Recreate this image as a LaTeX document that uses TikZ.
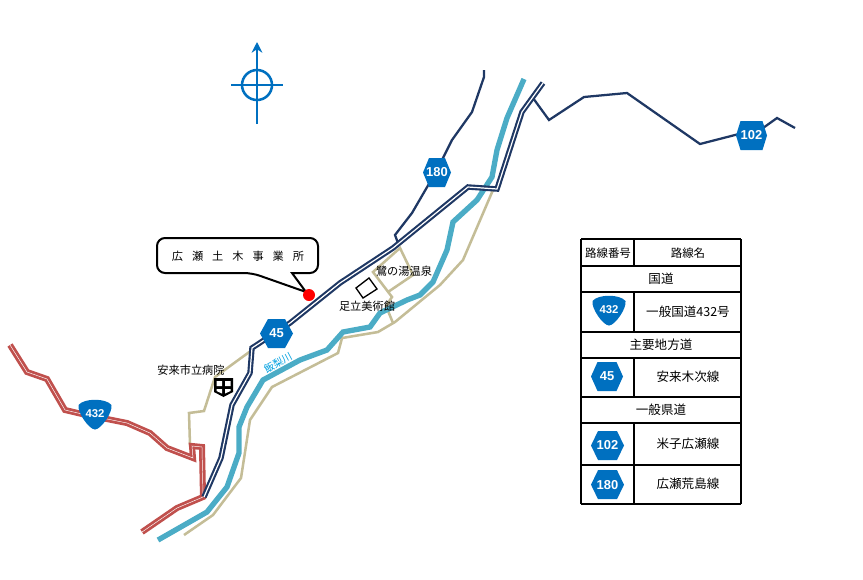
\documentclass[tikz,border=0pt]{standalone}
\usepackage{fontspec}
\setmainfont{Noto Sans CJK JP}
\newfontfamily\shieldfont{Liberation Sans}
\usetikzlibrary{arrows.meta}
\definecolor{shieldblue}{HTML}{0070C0}
\definecolor{roadnavy}{HTML}{1F3864}
\definecolor{roadred}{HTML}{C0504D}
\definecolor{riverblue}{HTML}{4BACC6}
\definecolor{pathbeige}{HTML}{C4BD97}
\definecolor{labelblue}{HTML}{00A0E0}
\tikzstyle{routenum} = [inner sep=0pt, text=white, font=\shieldfont\bfseries\fontsize{9.7pt}{10pt}\selectfont]
\tikzstyle{triroute} = [inner sep=0pt, text=white, font=\shieldfont\bfseries\fontsize{8.5pt}{10pt}\selectfont]
\tikzstyle{maproad} = [draw=roadnavy, line width=1.6pt, double=white, double distance=.9pt]
\tikzstyle{kokudo} = [draw=roadred, line width=2.1pt, double=white, double distance=.35pt]
\tikzstyle{thinroad} = [draw=roadnavy, line width=1.7pt]
\tikzstyle{river} = [draw=riverblue, line width=4pt]
\tikzstyle{footpath} = [draw=pathbeige, line width=1.9pt]
\tikzstyle{maplabel} = [inner sep=0pt, font=\fontsize{8.4pt}{10pt}\selectfont]
\tikzstyle{headlabel} = [inner sep=0pt, font=\fontsize{8.6pt}{10pt}\selectfont]
\tikzstyle{tablelabel} = [inner sep=0pt, font=\fontsize{9.4pt}{11pt}\selectfont]
% centre, half width, inset of the flat top, number
\newcommand{\hexshield}[4]{%
  \fill[shieldblue, shift={(#1)}] (-#2,0) -- (-#2+#3,-14.5) -- (#2-#3,-14.5) -- (#2,0) -- (#2-#3,14.5) -- (-#2+#3,14.5) -- cycle;
  \node[routenum] at (#1) {#4};}
\newcommand{\triangleshield}[2]{%
  \fill[shieldblue, shift={(#1)}] (-16.5,-9) .. controls (-11,-16) and (11,-16) .. (16.5,-9)
    .. controls (18,-2) and (6,15.5) .. (0,15.5) .. controls (-6,15.5) and (-18,-2) .. (-16.5,-9) -- cycle;
  \node[triroute] at (#1) {#2};}
\begin{document}
\begin{tikzpicture}[x=0.75pt, y=-0.75pt]
\useasboundingbox (0,0) rectangle (863,579);

% compass
\draw[shieldblue, line width=1.9pt] (257,85) circle (15);
\draw[shieldblue, line width=1.5pt] (231,85) -- (283,85);
\draw[shieldblue, line width=1.5pt, -{Stealth[length=8pt,width=8pt]}] (257,124) -- (257,42);

% beige paths
\draw[footpath] (184,535) -- (213,515) -- (241,478) -- (250,420) -- (272,387) -- (338,353) -- (342,338) -- (378,332) -- (395,322) -- (440,285) -- (463,260) -- (493,190);
\draw[footpath] (393,323) -- (386,306) -- (392,297) -- (373,272) -- (400,248) -- (413,275) -- (388,292);
\draw[footpath] (252,350) -- (215,377) -- (204,411) -- (189,413) -- (190,445);

% river
\draw[river] (158,540) -- (207,512) -- (227,487) -- (239,453) -- (239,427) -- (247,407) -- (263,380) -- (300,360) -- (327,350) -- (343,332) -- (370,327) -- (380,313) -- (407,300) -- (420,295) -- (433,282) -- (447,250) -- (453,222) -- (477,200) -- (492,177) -- (497,150) -- (507,118) -- (524,79);

% roads
\draw[kokudo] (10,345) -- (27,372) -- (47,379) -- (65,410) -- (82,414) -- (127,423) -- (150,433) -- (167,448) -- (193,458) -- (192,446) -- (202,447) -- (203,497) -- (177,508) -- (142,532);
\draw[thinroad] (484,70) -- (484,77) -- (472,112) -- (452,140) -- (437,170) -- (412,213) -- (395,235) -- (398,243);
\draw[thinroad] (533,98) -- (549,120) -- (584,97) -- (627,93) -- (700,144) -- (735,135) -- (763,128) -- (777,118) -- (795,128);
\draw[maproad] (204,497) -- (221,458) -- (232,405) -- (250,373) -- (252,348) -- (290,323) -- (340,283) -- (393,248) -- (468,187) -- (497,189) -- (522,112) -- (543,83);

% shields on the map
\hexshield{276.5,333.5}{16.5}{8}{45}
\hexshield{437,172.5}{14}{6}{180}
\hexshield{751.5,135.5}{15.5}{4.5}{102}
\triangleshield{95,414}{432}

% office callout
\filldraw[draw=black, fill=white, line width=1.5pt] (292,273) [rounded corners=6pt] -- (318,273) -- (318,238) -- (157,238) -- (157,273) -- (252,273) [sharp corners] -- (306,292) -- cycle;
\node[maplabel] (office) at (238,256) {広\hspace{.8em}瀬\hspace{.8em}土\hspace{.8em}木\hspace{.8em}事\hspace{.8em}業\hspace{.8em}所};
\fill[red] (309,295) circle (6);

% museum and hospital marks
\filldraw[draw=black, fill=white, line width=1pt] (356,288) -- (369,278) -- (377,289) -- (363,298) -- cycle;
\fill[black] (214,378) -- (233,378) -- (233,392) -- (223.5,397) -- (214,392) -- cycle;
\fill[white] (216.5,381) rectangle (222,386) (225,381) rectangle (230.5,386) (216.5,389) -- (222,389) -- (222,393.5) -- (216.5,391) -- cycle (225,389) -- (230.5,389) -- (230.5,391) -- (225,393.5) -- cycle;

\node[maplabel] (hospital) at (191,370) {安来市立病院};
\node[maplabel] (museum) at (367,306) {足立美術館};
\node[maplabel] (onsen) at (404,271) {鷺の湯温泉};
\node[maplabel, text=labelblue, rotate=28, font=\fontsize{7.5pt}{9pt}\selectfont] (iinashi) at (278,363) {飯梨川};

% legend
\fill[white] (581,239) rectangle (741,504);
\foreach \rowy in {239,266,292,332,358,397,423,465,504}
  \draw[black, line width=.8pt] (581,\rowy) -- (741,\rowy);
\draw[black, line width=.8pt] (581,239) -- (581,504) (741,239) -- (741,504);
\foreach \rowa/\rowb in {239/266,292/332,358/397,423/504}
  \draw[black, line width=.8pt] (634,\rowa) -- (634,\rowb);

\node[headlabel] (headnum) at (608,253) {路線番号};
\node[headlabel] (headname) at (688,253) {路線名};
\node[tablelabel] (kokudo) at (661,279) {国道};
\node[tablelabel] (shuyo) at (661,345) {主要地方道};
\node[tablelabel] (kendo) at (661,410) {一般県道};
\node[tablelabel] (name432) at (688,312) {一般国道432号};
\node[tablelabel] (name45) at (688,377) {安来木次線};
\node[tablelabel] (name102) at (688,444) {米子広瀬線};
\node[tablelabel] (name180) at (688,484) {広瀬荒島線};

\triangleshield{609,310}{432}
\hexshield{607,376.5}{16}{6.5}{45}
\hexshield{607.5,445.5}{16.5}{7}{102}
\hexshield{607.5,484.7}{16.5}{7}{180}
\end{tikzpicture}
\end{document}
